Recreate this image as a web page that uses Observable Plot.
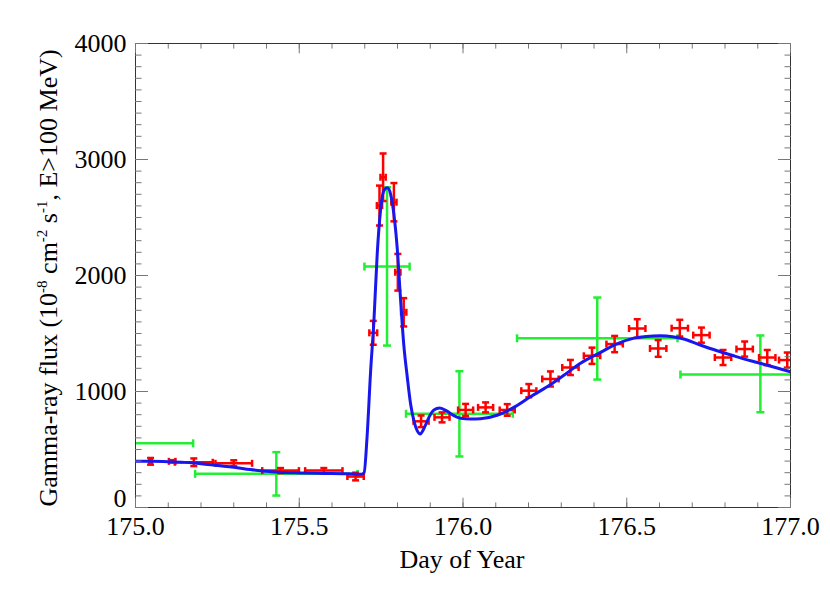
<!DOCTYPE html>
<html><head><meta charset="utf-8">
<script src="https://cdn.jsdelivr.net/npm/d3@7"></script>
<script src="https://cdn.jsdelivr.net/npm/@observablehq/plot@0.6"></script>
<style>html,body{margin:0;padding:0;background:#fff;}</style>
</head><body><div id="chart"></div>
<script>
// Red: fine-binned light curve
const redX    = [175.046, 175.112, 175.178, 175.300, 175.443, 175.575, 175.672, 175.726, 175.745, 175.756, 175.789, 175.801, 175.819, 175.872, 175.936, 176.008, 176.069, 176.135, 176.201, 176.267, 176.328, 176.394, 176.463, 176.532, 176.596, 176.662, 176.728, 176.794, 176.860, 176.929, 176.990];
const redY    = [398, 398, 390, 381, 318, 318, 267, 1506, 2603, 2847, 2632, 2028, 1683, 743, 777, 841, 863, 841, 1007, 1108, 1207, 1308, 1409, 1543, 1371, 1546, 1486, 1293, 1366, 1293, 1271];
const redXErr = [0.004, 0.010, 0.058, 0.056, 0.056, 0.057, 0.025, 0.012, 0.008, 0.008, 0.008, 0.008, 0.008, 0.023, 0.023, 0.023, 0.023, 0.023, 0.023, 0.025, 0.025, 0.025, 0.025, 0.025, 0.025, 0.025, 0.025, 0.025, 0.025, 0.025, 0.025];
const redYErr = [29, 10, 33, 26, 22, 22, 33, 103, 172, 205, 165, 158, 122, 50, 43, 52, 43, 50, 57, 65, 65, 70, 70, 80, 72, 72, 65, 65, 65, 65, 65];

// Green: coarse-binned light curve
const greenX     = [174.95, 175.43, 175.768, 175.989, 176.410, 176.908];
const greenY     = [553, 290, 2077, 808, 1459, 1146];
const greenXErr  = [0.226, 0.248, 0.069, 0.163, 0.245, 0.244];
const greenYLow  = [400, 103, 1396, 440, 1103, 821];
const greenYHigh = [700, 477, 2761, 1175, 1810, 1483];

// Blue: model curve
const modelX = [175.00, 175.05, 175.10, 175.15, 175.20, 175.25, 175.30, 175.35, 175.40, 175.45, 175.50, 175.55, 175.60, 175.65, 175.69, 175.698, 175.707, 175.718, 175.728, 175.738, 175.748, 175.758, 175.769, 175.779, 175.789, 175.799, 175.809, 175.819, 175.830, 175.840, 175.850, 175.860, 175.870, 175.880, 175.896, 175.911, 175.929, 175.952, 175.972, 175.992, 176.023, 176.053, 176.104, 176.155, 176.206, 176.257, 176.308, 176.36, 176.42, 176.47, 176.522, 176.56, 176.603, 176.64, 176.674, 176.72, 176.776, 176.83, 176.878, 176.94, 177.0];
const modelY = [398, 398, 395, 389, 378, 362, 347, 328, 312, 302, 298, 295, 293, 290, 287, 300, 605, 1179, 1609, 2183, 2556, 2728, 2756, 2700, 2527, 2240, 1810, 1409, 1121, 892, 749, 663, 634, 677, 777, 841, 858, 829, 792, 770, 763, 765, 795, 863, 955, 1040, 1140, 1245, 1337, 1410, 1460, 1475, 1480, 1472, 1452, 1405, 1351, 1305, 1265, 1218, 1170];

const xTickLabels = [175.0, 175.5, 176.0, 176.5, 177.0];
const yTickLabels = [0, 1000, 2000, 3000, 4000];
const xMinorStep = 0.1, yMinorStep = 100;

const red = redX.map((x, i) => ({x, y: redY[i], xe: redXErr[i], ye: redYErr[i]}));
const green = greenX.map((x, i) => ({x, y: greenY[i], xe: greenXErr[i], lo: greenYLow[i], hi: greenYHigh[i]}));
const model = modelX.map((x, i) => ({x, y: modelY[i]}));

const xMinor = d3.range(0, 21).map(i => +(175 + i * xMinorStep).toFixed(2));
const yMinor = d3.range(0, 41).map(i => i * yMinorStep);

const hCap = w => ({draw(ctx) { ctx.moveTo(-w / 2, 0); ctx.lineTo(w / 2, 0); }});
const vCap = h => ({draw(ctx) { ctx.moveTo(0, -h / 2); ctx.lineTo(0, h / 2); }});

const RED = "#ff0000", GREEN = "#22ee33", BLUE = "#1818ee", TICK = "#777", FRAME = "#333";
const FONT = "'Liberation Serif', 'Times New Roman', serif";

function errorBars(data, color, sw, capW, yLo, yHi) {
  return [
    Plot.ruleX(data, {x: "x", y1: yLo, y2: yHi, stroke: color, strokeWidth: sw, clip: true}),
    Plot.ruleY(data, {y: "y", x1: d => d.x - d.xe, x2: d => d.x + d.xe, stroke: color, strokeWidth: sw, clip: true}),
    Plot.dot(data, {x: "x", y: yLo, symbol: hCap(capW), stroke: color, fill: "none", strokeWidth: sw, clip: true}),
    Plot.dot(data, {x: "x", y: yHi, symbol: hCap(capW), stroke: color, fill: "none", strokeWidth: sw, clip: true}),
    Plot.dot(data, {x: d => d.x - d.xe, y: "y", symbol: vCap(capW), stroke: color, fill: "none", strokeWidth: sw, clip: true}),
    Plot.dot(data, {x: d => d.x + d.xe, y: "y", symbol: vCap(capW), stroke: color, fill: "none", strokeWidth: sw, clip: true})
  ];
}

const svg = Plot.plot({
  width: 830, height: 593,
  marginLeft: 135, marginRight: 40, marginTop: 43, marginBottom: 86,
  style: {fontFamily: FONT, fontSize: "26px", background: "#fff", color: "#000"},
  x: {domain: [175, 177], label: null},
  y: {domain: [0, 4000], label: null},
  marks: [
    ...errorBars(green, GREEN, 2.5, 8, "lo", "hi"),
    ...errorBars(red, RED, 2.5, 7, d => d.y - d.ye, d => d.y + d.ye),
    Plot.line(model, {x: "x", y: "y", stroke: BLUE, strokeWidth: 3, curve: "monotone-x", clip: true}),
    Plot.frame({stroke: FRAME}),
    // ticks (inward)
    Plot.axisX({anchor: "bottom", ticks: xMinor, tickSize: -4.6, fill: "none", stroke: TICK, label: null}),
    Plot.axisX({anchor: "bottom", ticks: xTickLabels, tickSize: -9.3, fill: "none", stroke: TICK, label: null}),
    Plot.axisX({anchor: "top", ticks: xMinor, tickSize: -4.6, fill: "none", stroke: TICK, label: null}),
    Plot.axisX({anchor: "top", ticks: xTickLabels, tickSize: -9.3, fill: "none", stroke: TICK, label: null}),
    Plot.axisY({anchor: "left", ticks: yMinor, tickSize: -6.5, fill: "none", stroke: TICK, label: null}),
    Plot.axisY({anchor: "left", ticks: yTickLabels, tickSize: -13, fill: "none", stroke: TICK, label: null}),
    Plot.axisY({anchor: "right", ticks: yMinor, tickSize: -6.5, fill: "none", stroke: TICK, label: null}),
    Plot.axisY({anchor: "right", ticks: yTickLabels, tickSize: -13, fill: "none", stroke: TICK, label: null}),
    // labels
    Plot.axisX({anchor: "bottom", ticks: xTickLabels, tickSize: 0, tickPadding: 9, tickFormat: d3.format(".1f"), stroke: "none", fill: "#000", label: null}),
    Plot.axisY({anchor: "left", ticks: yTickLabels, tickSize: 0, tickPadding: 9, tickFormat: d3.format("d"), stroke: "none", fill: "#000", label: null})
  ]
});

const s = d3.select(svg);
s.selectAll('g[aria-label="y-axis tick label"] text')
  .filter(function () { return this.textContent === "0"; })
  .attr("y", "-0.03em");

s.append("text")
  .attr("x", 462).attr("y", 568)
  .attr("text-anchor", "middle")
  .attr("fill", "#000")
  .text("Day of Year");

const yt = s.append("text")
  .attr("transform", "translate(57,278) rotate(-90)")
  .attr("text-anchor", "middle")
  .attr("fill", "#000");
yt.append("tspan").text("Gamma-ray flux (10");
yt.append("tspan").attr("dy", -10).style("font-size", "15px").text("-8");
yt.append("tspan").attr("dy", 10).text(" cm");
yt.append("tspan").attr("dy", -10).style("font-size", "15px").text("-2");
yt.append("tspan").attr("dy", 10).text(" s");
yt.append("tspan").attr("dy", -10).style("font-size", "15px").text("-1");
yt.append("tspan").attr("dy", 10).text(", E>100 MeV)");

// force the serif family on every text element
s.selectAll("text").style("font-family", FONT).each(function () {
  if (!this.style.fontSize) this.style.fontSize = "26px";
});
s.selectAll("g[aria-label$='tick label']").style("font-family", FONT).style("font-size", "26px");

document.getElementById("chart").appendChild(svg);
</script>
</body></html>
